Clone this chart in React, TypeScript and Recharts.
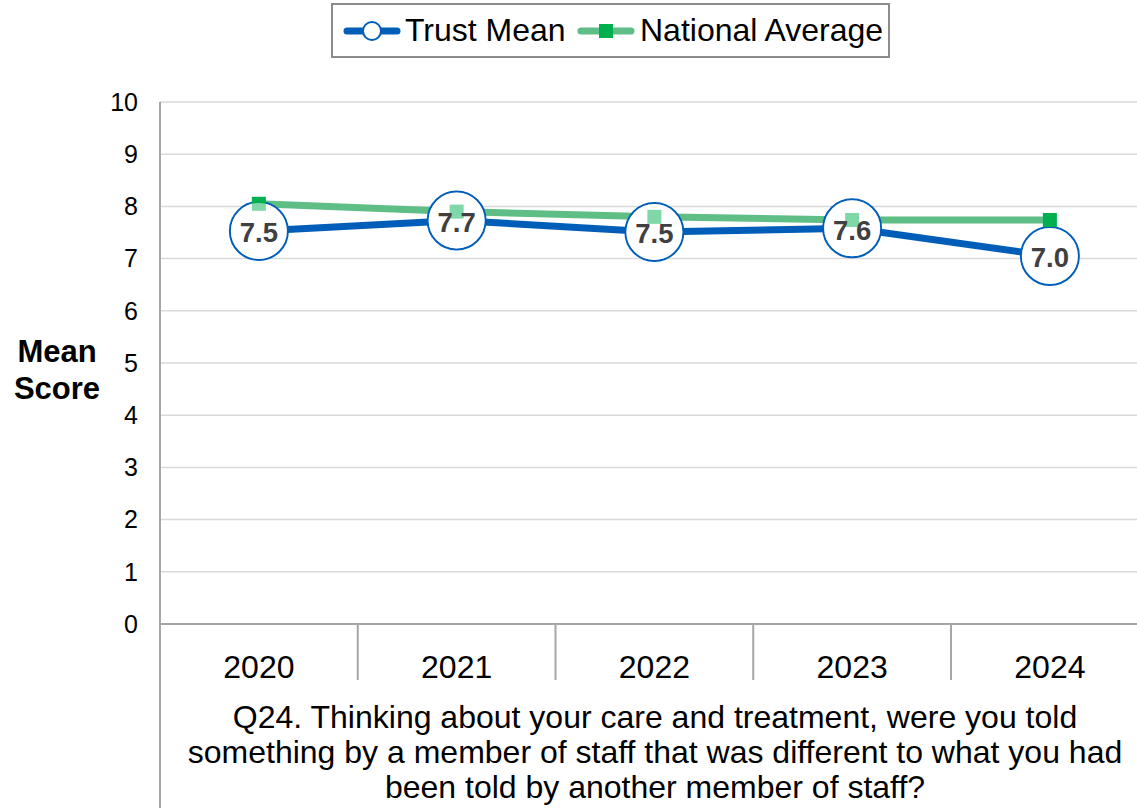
import { LineChart, Line, XAxis, YAxis, CartesianGrid, LabelList } from "recharts";

const years = ["2020", "2021", "2022", "2023", "2024"];
const trustMean = [7.53, 7.73, 7.51, 7.58, 7.05];
const trustLabels = ["7.5", "7.7", "7.5", "7.6", "7.0"];
const nationalAvg = [8.05, 7.9, 7.8, 7.74, 7.74];
const yTicks = [0, 1, 2, 3, 4, 5, 6, 7, 8, 9, 10];
const questionLines = [
  "Q24. Thinking about your care and treatment, were you told",
  "something by a member of staff that was different to what you had",
  "been told by another member of staff?",
];

const data = years.map((y, i) => ({
  year: y,
  trust: trustMean[i],
  national: nationalAvg[i],
  label: trustLabels[i],
}));

const FONT = "'Liberation Sans', Arial, sans-serif";
const BLUE = "#005EB8";
const GREEN_LINE = "#5FBE85";
const GREEN_MARK = "#00B050";
const GRID = "#D9D9D9";
const AXIS = "#A6A6A6";

const W = 1160;
const H = 808;
const LEFT = 160;
const TOP = 102;
const BOTTOM = 624;
const BAND = 197.75;
const RIGHT = W - LEFT - BAND * 5;

function XTick(props: any) {
  const { x, y, payload, index } = props;
  const left = x - BAND / 2;
  return (
    <g>
      <line x1={left} y1={BOTTOM} x2={left} y2={index === 0 ? H : 680} stroke={AXIS} strokeWidth={2} />
      <text x={x} y={y + 46} textAnchor="middle" fontSize={32} fontFamily={FONT} fill="#000">
        {payload.value}
      </text>
    </g>
  );
}

function TrustDot(props: any) {
  const { cx, cy } = props;
  if (cx == null || cy == null) return null;
  return <circle cx={cx} cy={cy} r={29} fill="#fff" stroke={BLUE} strokeWidth={2} />;
}

function NationalDot(props: any) {
  const { cx, cy } = props;
  if (cx == null || cy == null) return null;
  return <rect x={cx - 7} y={cy - 7} width={14} height={14} fill={GREEN_MARK} />;
}

function CircleLabel(props: any) {
  const { x, y, value } = props;
  if (x == null || y == null) return null;
  return (
    <g>
      <circle cx={x} cy={y} r={28} fill="#fff" fillOpacity={0.5} />
      <text x={x} y={y + 2} textAnchor="middle" dominantBaseline="central" fontSize={27.5} fontWeight="bold" fontFamily={FONT} fill="#404040">
        {value}
      </text>
    </g>
  );
}

function LegendIcon({ color, marker, left }: { color: string; marker: "circle" | "square"; left: number }) {
  return (
    <svg width={58} height={30} style={{ position: "absolute", left, top: 11 }}>
      <line x1={4} y1={15} x2={54} y2={15} stroke={color} strokeWidth={7} strokeLinecap="round" />
      {marker === "circle" ? (
        <circle cx={29} cy={15} r={9} fill="#fff" stroke={BLUE} strokeWidth={2} />
      ) : (
        <rect x={22} y={8} width={14} height={14} fill={GREEN_MARK} />
      )}
    </svg>
  );
}

export default function App() {
  return (
    <div style={{ position: "absolute", left: 0, top: 0, width: 1137, height: 808, overflow: "hidden", background: "#fff", fontFamily: FONT }}>
      <LineChart width={W} height={H} data={data} margin={{ top: TOP, right: RIGHT, bottom: 0, left: 0 }}>
        <CartesianGrid vertical={false} stroke={GRID} strokeWidth={1.5} />
        <XAxis
          dataKey="year"
          height={H - BOTTOM}
          padding={{ left: BAND / 2, right: BAND / 2 }}
          tick={<XTick />}
          tickLine={false}
          axisLine={{ stroke: AXIS, strokeWidth: 2 }}
          interval={0}
        />
        <YAxis
          width={LEFT}
          domain={[0, 10]}
          ticks={yTicks}
          interval={0}
          tickLine={false}
          axisLine={{ stroke: AXIS, strokeWidth: 2 }}
          tick={{ fontSize: 25, fill: "#000", fontFamily: FONT }}
          tickMargin={16}
        />
        <Line dataKey="trust" stroke={BLUE} strokeWidth={7} dot={<TrustDot />} activeDot={false} isAnimationActive={false} />
        <Line dataKey="national" stroke={GREEN_LINE} strokeWidth={7} dot={<NationalDot />} activeDot={false} isAnimationActive={false} />
        <Line dataKey="trust" stroke="none" dot={false} activeDot={false} legendType="none" isAnimationActive={false}>
          <LabelList dataKey="label" content={<CircleLabel />} />
        </Line>
      </LineChart>

      <div style={{ position: "absolute", left: 331, top: 3, width: 559, height: 55, boxSizing: "border-box", border: "2px solid #8C8C8C", fontSize: 32, color: "#000", whiteSpace: "nowrap" }}>
        <LegendIcon color={BLUE} marker="circle" left={10} />
        <span style={{ position: "absolute", left: 72, top: 7, lineHeight: "36px" }}>Trust Mean</span>
        <LegendIcon color={GREEN_LINE} marker="square" left={244} />
        <span style={{ position: "absolute", left: 307, top: 7, lineHeight: "36px" }}>National Average</span>
      </div>

      <div style={{ position: "absolute", left: 0, top: 333, width: 114, textAlign: "center", fontSize: 31, fontWeight: "bold", lineHeight: "37px", color: "#000" }}>
        Mean
        <br />
        Score
      </div>

      <div style={{ position: "absolute", left: 160, top: 700, width: 990, textAlign: "center", fontSize: 32, lineHeight: "35px", color: "#000", whiteSpace: "nowrap" }}>
        {questionLines.map((l) => (
          <div key={l}>{l}</div>
        ))}
      </div>
    </div>
  );
}
